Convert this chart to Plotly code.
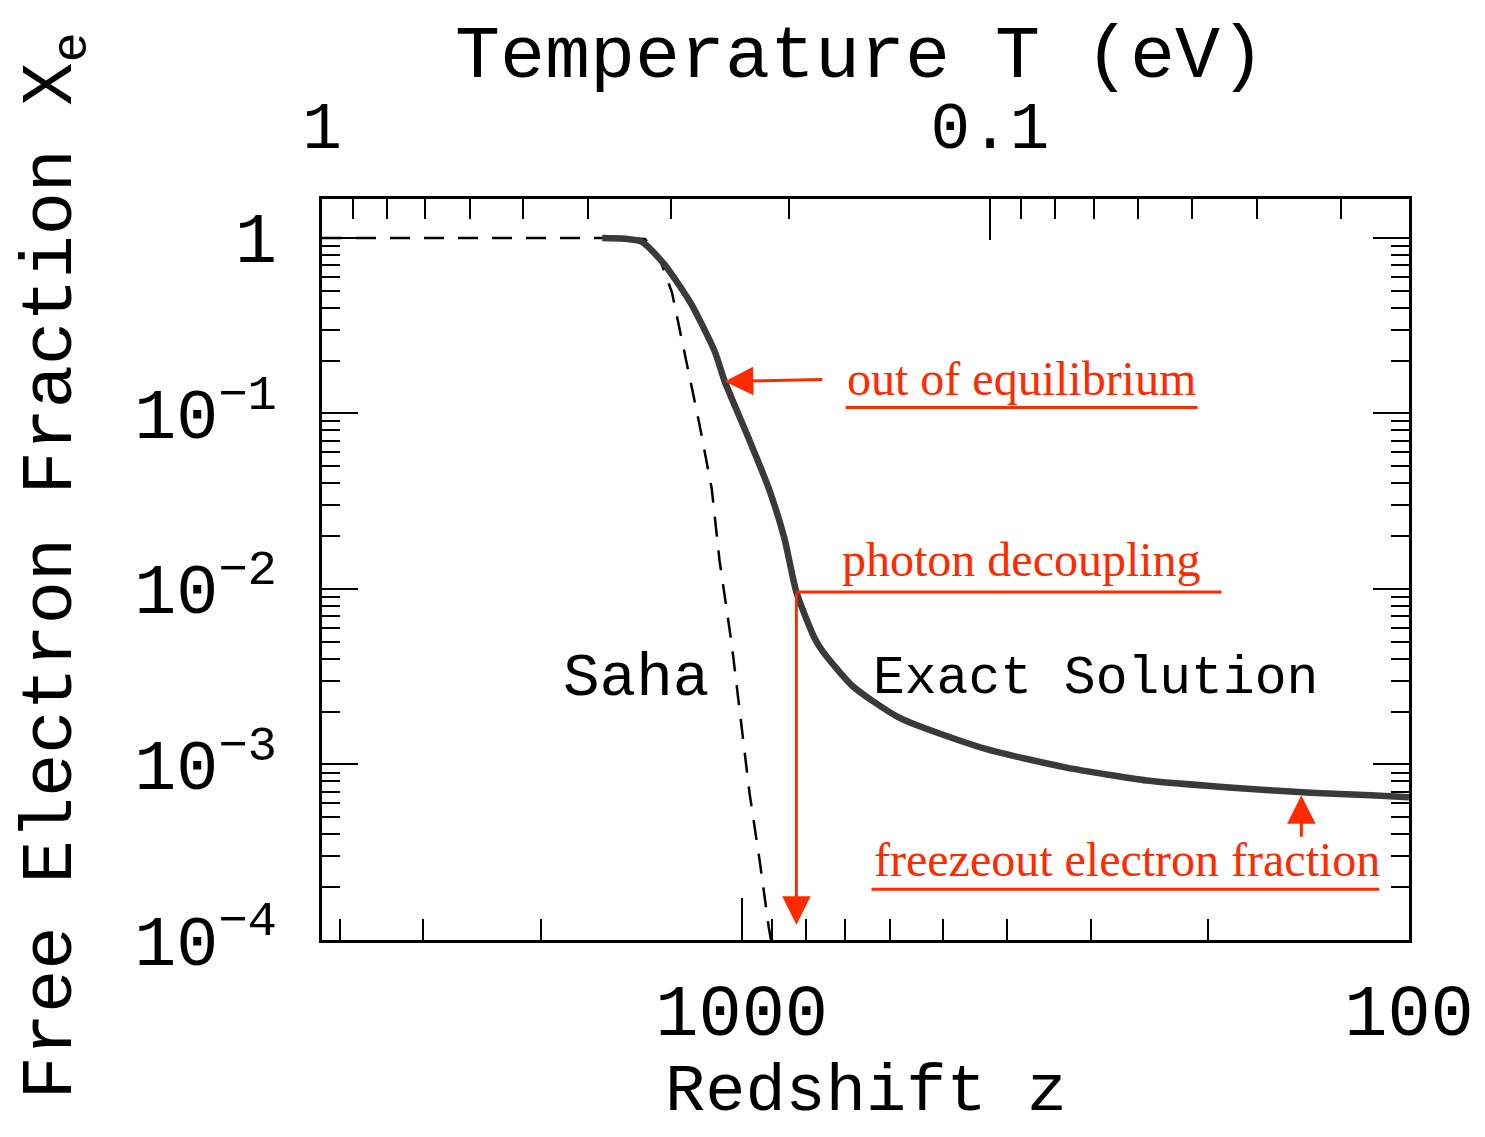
import numpy as np
import plotly.graph_objects as go

# ---------------- data ----------------
T0_EV = 2.35e-4  # photon temperature today in eV, T = T0 (1+z)

z_exact = [1618, 1500, 1410, 1303, 1188, 1097, 1060, 976, 911,
           863, 828, 778, 757, 683, 581, 432, 326, 247, 186, 140.5, 114, 100]
xe_exact = [1.0, 0.99, 0.949, 0.70, 0.416, 0.225, 0.152, 0.0721, 0.0375,
            0.0195, 0.0096, 0.00527, 0.00444, 0.00281, 0.00185, 0.00123,
            0.00096, 0.00081, 0.00074, 0.00069, 0.000667, 0.00065]

z_saha = [4254, 2500, 1800, 1500, 1396, 1330, 1272, 1216, 1159, 1109, 1079, 1035,
          1000, 973, 940, 911, 896]
xe_saha = [1.0, 1.0, 1.0, 0.998, 0.987, 0.78, 0.49, 0.216, 0.090, 0.0375, 0.0144,
           0.00487, 0.00162, 6.84e-4, 2.85e-4, 1.19e-4, 8.3e-5]

z_major = [1000, 100]
z_major_labels = ["1000", "100"]
z_minor = [4000, 3000, 2000, 900, 800, 700, 600, 500, 400, 300, 200]

T_major = [1, 0.1]
T_major_labels = ["1", "0.1"]
T_minor = [0.9, 0.8, 0.7, 0.6, 0.5, 0.4, 0.3, 0.2, 0.09, 0.08, 0.07, 0.06, 0.05, 0.04, 0.03]

y_major = [1, 1e-1, 1e-2, 1e-3, 1e-4]
y_major_labels = ["1", "10<sup>\u22121</sup>", "10<sup>\u22122</sup>",
                  "10<sup>\u22123</sup>", "10<sup>\u22124</sup>"]
y_minor = [m * 10.0 ** k for k in range(-4, 0) for m in range(2, 10)]

# annotation anchors (data values)
z_outeq, xe_outeq = 1060, 0.152
z_dec, xe_dec = 828, 0.0096
z_dec_end = 191
xe_dec_arrow = 1.22e-4
z_freeze, xe_freeze = 145, 0.000667

# ---------------- figure ----------------
RED = "#ff2a00"
MONO = "Liberation Mono"
SERIF = "Liberation Serif"

def tz(T):
    return T / T0_EV - 1.0

xrange = [np.log10(tz(1.0)), 2.0]

fig = go.Figure()

fig.add_trace(go.Scatter(
    x=z_saha, y=xe_saha, mode="lines",
    line=dict(color="black", width=2.5, dash="20px,14px"),
    hoverinfo="skip", showlegend=False))

fig.add_trace(go.Scatter(
    x=z_exact, y=xe_exact, mode="lines",
    line=dict(color="#3a3a3a", width=6.5, shape="spline", smoothing=0.6),
    showlegend=False))

# decoupling horizontal line
fig.add_trace(go.Scatter(
    x=[z_dec, z_dec_end], y=[xe_dec, xe_dec], mode="lines",
    line=dict(color=RED, width=3), hoverinfo="skip", showlegend=False))

# invisible trace on the top axis so it is drawn
fig.add_trace(go.Scatter(
    x=z_exact, y=xe_exact, xaxis="x2", mode="lines",
    line=dict(color="rgba(0,0,0,0)", width=0), hoverinfo="skip", showlegend=False))

fig.update_layout(
    width=1479, height=1130,
    margin=dict(l=314, r=78, t=191, b=198),
    paper_bgcolor="white", plot_bgcolor="white",
    showlegend=False,
    xaxis=dict(
        type="log", range=xrange, showgrid=False, zeroline=False,
        showline=True, linecolor="black", linewidth=3, mirror=False,
        tickmode="array", tickvals=z_major, ticktext=z_major_labels,
        ticks="inside", ticklen=42, tickwidth=2, tickcolor="black",
        tickfont=dict(family=MONO, size=72, color="black"),
        ticklabelstandoff=6,
        minor=dict(tickmode="array", tickvals=z_minor, ticks="inside",
                   ticklen=21, tickwidth=2, tickcolor="black", showgrid=False),
        automargin=False,
    ),
    xaxis2=dict(
        type="log", range=xrange, overlaying="x", side="top", anchor="y",
        showgrid=False, zeroline=False,
        showline=True, linecolor="black", linewidth=3,
        tickmode="array", tickvals=[tz(t) for t in T_major], ticktext=T_major_labels,
        ticks="inside", ticklen=41, tickwidth=2, tickcolor="black",
        tickfont=dict(family=MONO, size=66, color="black"),
        ticklabelstandoff=22,
        minor=dict(tickmode="array", tickvals=[tz(t) for t in T_minor], ticks="inside",
                   ticklen=20, tickwidth=2, tickcolor="black", showgrid=False),
        automargin=False,
    ),
    yaxis=dict(
        type="log", range=[-4, 0.2216], showgrid=False, zeroline=False,
        showline=True, linecolor="black", linewidth=3, mirror="ticks",
        tickmode="array", tickvals=y_major, ticktext=y_major_labels,
        ticks="inside", ticklen=36, tickwidth=2, tickcolor="black",
        tickfont=dict(family=MONO, size=70, color="black"),
        ticklabelstandoff=28,
        minor=dict(tickmode="array", tickvals=y_minor, ticks="inside",
                   ticklen=18, tickwidth=2, tickcolor="black", showgrid=False),
        automargin=False,
    ),
)

annotations = [
    dict(text="Temperature T (eV)", x=0.4954, y=1.191, xref="paper", yref="paper",
         showarrow=False, xanchor="center", yanchor="middle",
         font=dict(family=MONO, size=75, color="black")),
    dict(text="Redshift z", x=0.5009, y=-0.205, xref="paper", yref="paper",
         showarrow=False, xanchor="center", yanchor="middle",
         font=dict(family=MONO, size=67, color="black")),
    dict(text="Free Electron Fraction X<sub>e</sub>", x=-0.245, y=0.505,
         xref="paper", yref="paper", textangle=-90,
         showarrow=False, xanchor="center", yanchor="middle",
         font=dict(family=MONO, size=72, color="black")),
    dict(text="Saha", x=0.289, y=0.3526, xref="paper", yref="paper",
         showarrow=False, xanchor="center", yanchor="middle",
         font=dict(family=MONO, size=61, color="black")),
    dict(text="Exact Solution", x=0.712, y=0.3526, xref="paper", yref="paper",
         showarrow=False, xanchor="center", yanchor="middle",
         font=dict(family=MONO, size=53, color="black")),
    dict(text="out of equilibrium", x=0.6436, y=0.758, xref="paper", yref="paper",
         showarrow=False, xanchor="center", yanchor="middle",
         font=dict(family=SERIF, size=48, color=RED)),
    dict(text="photon decoupling", x=0.6431, y=0.514, xref="paper", yref="paper",
         showarrow=False, xanchor="center", yanchor="middle",
         font=dict(family=SERIF, size=48, color=RED)),
    dict(text="freezeout electron fraction", x=0.7404, y=0.108, xref="paper", yref="paper",
         showarrow=False, xanchor="center", yanchor="middle",
         font=dict(family=SERIF, size=48, color=RED)),
    # arrows
    dict(text="", x=np.log10(z_outeq), y=np.log10(xe_outeq), xref="x", yref="y",
         showarrow=True, ax=99, ay=-2, arrowhead=2, arrowsize=1.9, arrowwidth=3,
         arrowcolor=RED),
    dict(text="", x=np.log10(z_dec), y=np.log10(xe_dec_arrow), xref="x", yref="y",
         axref="x", ayref="y", ax=np.log10(z_dec), ay=np.log10(xe_dec),
         showarrow=True, arrowhead=2, arrowsize=1.9, arrowwidth=3, arrowcolor=RED),
    dict(text="", x=np.log10(z_freeze), y=np.log10(xe_freeze), xref="x", yref="y",
         showarrow=True, ax=0, ay=43, arrowhead=2, arrowsize=1.9, arrowwidth=3,
         arrowcolor=RED),
]
fig.update_layout(annotations=annotations)

# underlines (in plot-domain fractions)
underlines = [(0.4817, 0.8055, 0.7187), (0.5055, 0.9725, 0.0686)]
for x0, x1, yy in underlines:
    fig.add_shape(type="line", xref="x domain", yref="y domain",
                  x0=x0, x1=x1, y0=yy, y1=yy, line=dict(color=RED, width=3))

fig.write_html("out.html")
